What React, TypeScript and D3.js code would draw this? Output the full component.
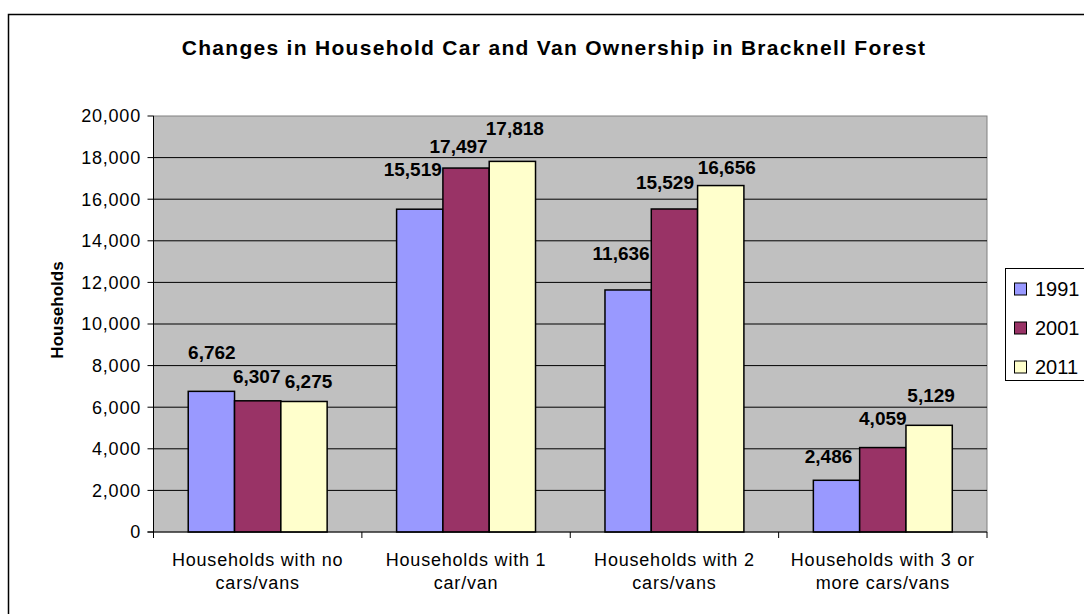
import React from "react";
import * as d3 from "d3";

const categories = [
  ["Households with no", "cars/vans"],
  ["Households with 1", "car/van"],
  ["Households with 2", "cars/vans"],
  ["Households with 3 or", "more cars/vans"],
];
const seriesNames = ["1991", "2001", "2011"];
const values1991 = [6762, 15519, 11636, 2486];
const values2001 = [6307, 17497, 15529, 4059];
const values2011 = [6275, 17818, 16656, 5129];
const yTicks = [0, 2000, 4000, 6000, 8000, 10000, 12000, 14000, 16000, 18000, 20000];
const title = "Changes in Household Car and Van Ownership in Bracknell Forest";
const yTitle = "Households";

const colors = ["#9999FF", "#993366", "#FFFFCC"];
// label nudges (dx from bar centre, dy baseline above bar top), per category then series
const labelDx = [[0.5, -1, 4.5], [-7, -7.5, 2.5], [-7, -9.5, 6], [-8, 0, 2]];
const labelDy = [[32, 18, 13.5], [33, 15, 26], [30, 20, 12], [17, 22.6, 23.6]];

const FONT = "'Liberation Sans', Arial, sans-serif";

export default function App() {
  const series = [values1991, values2001, values2011];
  const left = 153.5, right = 987, top = 116, bottom = 532;
  const y = d3.scaleLinear().domain([0, 20000]).range([bottom, top]);
  const x = d3.scaleBand<number>().domain(d3.range(categories.length)).range([left, right]).paddingInner(0).paddingOuter(0);
  const catW = x.bandwidth();
  const barW = catW / 4.5;
  const groupOff = (catW - barW * 3) / 2;
  const fmt = d3.format(",");

  return (
    <svg width={1084} height={614} style={{ position: "absolute", left: 0, top: 0, background: "#fff" }} fontFamily={FONT}>
      <rect x={8.5} y={14.5} width={1200} height={800} fill="#fff" stroke="#000" strokeWidth={1.5} />
      <text x={554} y={55} textAnchor="middle" fontWeight="bold" fontSize={21} letterSpacing={1.3}>{title}</text>
      {/* plot background */}
      <rect x={left} y={top} width={right - left} height={bottom - top} fill="#C0C0C0" stroke="#808080" strokeWidth={1} />
      {yTicks.filter(t => t > 0 && t < 20000).map(t => (
        <line key={t} x1={left} x2={right} y1={y(t)} y2={y(t)} stroke="#000" strokeWidth={1} />
      ))}
      {/* bars */}
      {categories.map((c, ci) =>
        series.map((s, si) => {
          const bx = (x(ci) as number) + groupOff + si * barW;
          return (
            <rect key={`${ci}-${si}`} x={bx} y={y(s[ci])} width={barW} height={bottom - y(s[ci])}
              fill={colors[si]} stroke="#000" strokeWidth={1.5} />
          );
        })
      )}
      {/* axes */}
      <line x1={left} x2={left} y1={top} y2={bottom} stroke="#000" strokeWidth={1} />
      <line x1={left - 6} x2={right} y1={bottom} y2={bottom} stroke="#000" strokeWidth={1} />
      {yTicks.map(t => (
        <g key={t}>
          <line x1={left - 6} x2={left} y1={y(t)} y2={y(t)} stroke="#000" strokeWidth={1} />
          <text x={141} y={y(t)} dy="0.36em" textAnchor="end" fontSize={18} letterSpacing={0.8}>{fmt(t)}</text>
        </g>
      ))}
      {d3.range(categories.length + 1).map(i => {
        const xx = left + i * catW;
        return <line key={i} x1={xx} x2={xx} y1={bottom} y2={bottom + 6} stroke="#000" strokeWidth={1} />;
      })}
      {categories.map((c, ci) => (
        <text key={ci} x={(x(ci) as number) + catW / 2} textAnchor="middle" fontSize={18} letterSpacing={0.8}>
          <tspan x={(x(ci) as number) + catW / 2} y={566}>{c[0]}</tspan>
          <tspan x={(x(ci) as number) + catW / 2} y={589}>{c[1]}</tspan>
        </text>
      ))}
      {/* data labels */}
      {categories.map((c, ci) =>
        series.map((s, si) => {
          const cx = (x(ci) as number) + groupOff + si * barW + barW / 2;
          return (
            <text key={`l${ci}-${si}`} x={cx + labelDx[ci][si]} y={y(s[ci]) - labelDy[ci][si]}
              textAnchor="middle" fontWeight="bold" fontSize={19}>{fmt(s[ci])}</text>
          );
        })
      )}
      {/* y title */}
      <text transform={`translate(63,310) rotate(-90)`} textAnchor="middle" fontWeight="bold" fontSize={17}>{yTitle}</text>
      {/* legend */}
      <rect x={1005.5} y={268.5} width={200} height={112} fill="#fff" stroke="#000" strokeWidth={1} />
      {seriesNames.map((n, i) => (
        <g key={n}>
          <rect x={1014.5} y={283 + i * 39} width={12} height={12} fill={colors[i]} stroke="#000" strokeWidth={1} />
          <text x={1035} y={289 + i * 39} dy="0.36em" fontSize={20}>{n}</text>
        </g>
      ))}
    </svg>
  );
}
